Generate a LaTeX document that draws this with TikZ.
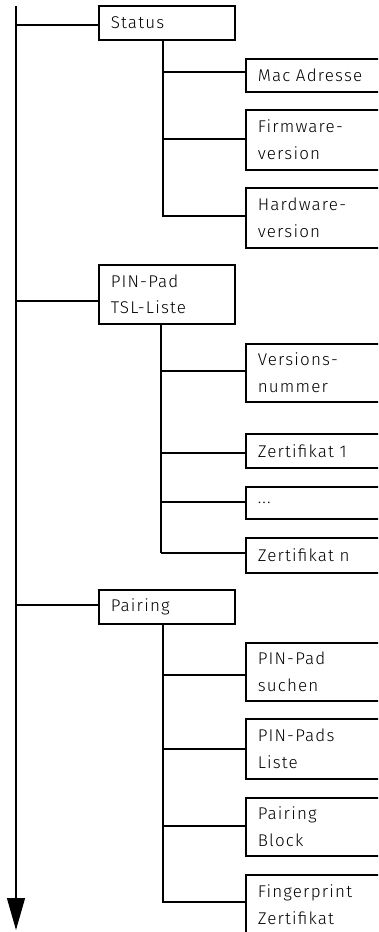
\documentclass[tikz,border=0pt]{standalone}
\usepackage{fontspec}
\setmainfont{Fira Sans Light}[LetterSpace=7]
\usetikzlibrary{arrows.meta}
\begin{document}
\begin{tikzpicture}[x=1pt,y=-1pt,
  box/.style={draw=black,line width=1.5pt,anchor=north west,rectangle,
    inner xsep=12pt,inner ysep=2pt,align=left,text=black,
    font=\fontsize{17}{26.7}\selectfont},
  lone/.style={box,text width=112pt,minimum width=136pt},
  ltwo/.style={box,text width=121pt,minimum width=145pt},
  branch/.style={line width=1.5pt},
  vline/.style={line width=1.1pt},
]
\useasboundingbox (0,0) rectangle (378,932);
\clip (0,0) rectangle (378,932);

% level 1
\node[lone,minimum height=34pt] (status) at (98,5) {Status};
\node[lone,minimum height=59pt] (tsl) at (98,264) {PIN-Pad\\TSL-Liste};
\node[lone,minimum height=34pt] (pairing) at (98,589) {Pairing};

% level 2, group 1
\node[ltwo,minimum height=33pt] (mac) at (245,58) {Mac Adresse};
\node[ltwo,minimum height=60pt] (firm) at (245,109) {Firmware-\\version};
\node[ltwo,minimum height=60pt] (hard) at (245,187) {Hardware-\\version};
% group 2
\node[ltwo,minimum height=58pt] (vers) at (245,343) {Versions-\\nummer};
\node[ltwo,minimum height=34pt] (zone) at (245,433) {Zertifikat 1};
\node[ltwo,minimum height=32pt] (dots) at (245,486) {...};
\node[ltwo,minimum height=35pt] (zn) at (245,537) {Zertifikat n};
% group 3
\node[ltwo,minimum height=58pt] (such) at (245,642) {PIN-Pad\\suchen};
\node[ltwo,minimum height=60pt] (liste) at (245,718) {PIN-Pads\\Liste};
\node[ltwo,minimum height=58pt] (block) at (245,797) {Pairing\\Block};
\node[ltwo,minimum height=60pt] (finger) at (245,874) {Fingerprint\\Zertifikat};

% main axis
\coordinate (mtop) at (16,6);
\coordinate (mbot) at (16,930);
\draw[vline,-{Triangle[length=32pt,width=18pt]}] (mtop) -- (mbot);

% main branches
\coordinate (b1) at (16,25);
\coordinate (b2) at (16,301);
\coordinate (b3) at (16,605);
\draw[branch] (b1) -- (b1 -| status.west);
\draw[branch] (b2) -- (b2 -| tsl.west);
\draw[branch] (b3) -- (b3 -| pairing.west);

% sub axes
\coordinate (s1t) at (163,39);
\coordinate (s1b) at (163,217);
\coordinate (s2t) at (161,323);
\coordinate (s2b) at (161,553);
\coordinate (s3t) at (163,623);
\coordinate (s3b) at (163,903);
\draw[line width=1.6pt] (s1t) -- (s1b);
\draw[vline] (s2t) -- (s2b);
\draw[vline] (s3t) -- (s3b);

% sub branches
\foreach \y/\n in {72/mac,139/firm,216/hard}{
  \coordinate (c) at (163,\y);
  \draw[branch] (c) -- (c -| \n.west);
}
\foreach \y/\n in {371/vers,453/zone,502/dots,553/zn}{
  \coordinate (c) at (161,\y);
  \draw[branch] (c) -- (c -| \n.west);
}
\foreach \y/\n in {675/such,749/liste,826/block,902/finger}{
  \coordinate (c) at (163,\y);
  \draw[branch] (c) -- (c -| \n.west);
}
\end{tikzpicture}
\end{document}
